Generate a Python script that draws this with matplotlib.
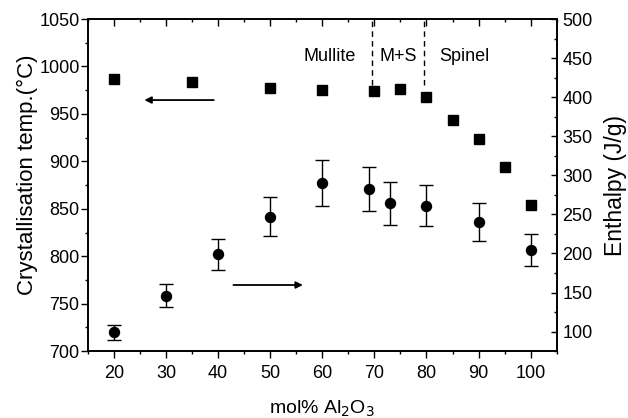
import matplotlib
matplotlib.use("Agg")
import matplotlib.pyplot as plt
from matplotlib.ticker import MultipleLocator

plt.rcParams['font.family'] = ['Liberation Sans', 'DejaVu Sans']

# crystallisation temperature (left axis, squares)
temp_x = [20, 35, 50, 60, 70, 75, 80, 85, 90, 95, 100]
temp_y = [987, 984, 977, 975, 974.5, 976, 967.5, 944, 924, 894, 854]

# enthalpy (right axis, circles with error bars)
enth_x = [20, 30, 40, 50, 60, 69, 73, 80, 90, 100]
enth_y = [99, 146, 199, 247, 290, 282, 264, 261, 240, 204]
enth_err = [10, 15, 20, 25, 29, 28, 27, 26.5, 24, 20.5]

phase_bounds = [69.5, 79.6]
phase_labels = ["Mullite", "M+S", "Spinel"]
phase_label_x = [61.4, 74.6, 87.2]

fig = plt.figure(figsize=(6.28, 4.18), dpi=100)
ax = fig.add_axes([0.140, 0.160, 0.7465, 0.7945])
ax2 = ax.twinx()

ax.plot(temp_x, temp_y, 's', color='black', markersize=6.5, linestyle='none')
ax2.errorbar(enth_x, enth_y, yerr=enth_err, fmt='o', color='black',
             markersize=7.2, capsize=5, elinewidth=1, capthick=1)

ax.set_xlim(15, 105)
ax.set_ylim(700, 1050)
ax2.set_ylim(75, 500)

# phase region boundaries and labels
for xb in phase_bounds:
    ax.plot([xb, xb], [980, 1050], linestyle=(0, (4, 3)), color='black', linewidth=1)
for lbl, lx in zip(phase_labels, phase_label_x):
    ax.text(lx, 1010, lbl, ha='center', va='center', fontsize=13)

# arrows pointing to the relevant axis
ax.annotate('', xy=(25.3, 964.6), xytext=(39.7, 964.6),
            arrowprops=dict(arrowstyle='-|>', color='black', lw=1.3, mutation_scale=10))
ax2.annotate('', xy=(56.8, 159.6), xytext=(42.4, 159.6),
             arrowprops=dict(arrowstyle='-|>', color='black', lw=1.3, mutation_scale=10))

ax.xaxis.set_major_locator(MultipleLocator(10))
ax.xaxis.set_minor_locator(MultipleLocator(5))
ax.yaxis.set_major_locator(MultipleLocator(50))
ax.yaxis.set_minor_locator(MultipleLocator(25))
ax2.yaxis.set_major_locator(MultipleLocator(50))
ax2.yaxis.set_minor_locator(MultipleLocator(25))

ax.tick_params(axis='x', which='both', direction='out', top=True, labelsize=13, pad=5)
ax.tick_params(axis='y', which='both', direction='out', labelsize=13, pad=1)
ax.tick_params(which='major', length=5, width=1)
ax.tick_params(which='minor', length=2.5, width=1)
ax2.tick_params(axis='y', which='both', direction='in', labelsize=13, pad=4)
ax2.tick_params(which='major', length=4, width=1)
ax2.tick_params(which='minor', length=2.5, width=1)

# top ticks point inward
for t in ax.xaxis.get_major_ticks() + ax.xaxis.get_minor_ticks():
    t.tick2line.set_marker(3)

for a in (ax, ax2):
    for s in a.spines.values():
        s.set_linewidth(1.2)

ax.set_xlabel('mol% Al$_2$O$_3$', fontsize=14, labelpad=12)
ax.set_ylabel('Crystallisation temp.(°C)', fontsize=16, labelpad=1)
ax.yaxis.label.set_y(0.53)
ax2.set_ylabel('Enthalpy (J/g)', fontsize=16.5, labelpad=8)

fig.savefig('out.png', dpi=100)
